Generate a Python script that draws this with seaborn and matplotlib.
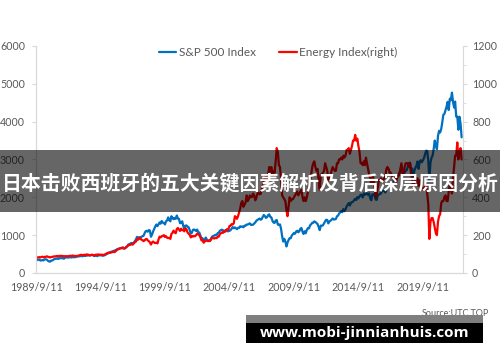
import numpy as np
import pandas as pd
import matplotlib
matplotlib.use("Agg")
import matplotlib.pyplot as plt
from matplotlib.patches import Rectangle
from matplotlib.lines import Line2D
import seaborn as sns

# S&P 500 月度数据（左轴），1989/9 起
spx = [
    349, 340, 346, 353,
    329, 332, 340, 331, 361, 358, 356, 323, 306, 298, 322, 330,
    344, 367, 375, 375, 390, 371, 388, 395, 388, 392, 375, 417,
    409, 413, 404, 415, 415, 408, 424, 414, 418, 419, 431, 436,
    439, 443, 452, 440, 450, 451, 448, 464, 459, 468, 462, 466,
    482, 467, 446, 451, 457, 444, 458, 475, 463, 472, 454, 459,
    470, 487, 501, 515, 533, 545, 562, 562, 584, 582, 605, 616,
    636, 640, 646, 654, 669, 671, 640, 652, 687, 705, 757, 741,
    786, 791, 757, 801, 848, 885, 954, 899, 947, 915, 955, 970,
    980, 1049, 1102, 1112, 1091, 1134, 1121, 957, 1017, 1099, 1164, 1229,
    1280, 1238, 1286, 1335, 1302, 1373, 1329, 1320, 1283, 1363, 1389, 1469,
    1394, 1366, 1499, 1452, 1421, 1455, 1431, 1518, 1437, 1429, 1315, 1320,
    1366, 1240, 1160, 1249, 1256, 1224, 1211, 1134, 1041, 1060, 1139, 1148,
    1130, 1107, 1147, 1077, 1067, 990, 912, 916, 815, 886, 936, 880,
    856, 841, 848, 917, 964, 975, 990, 1008, 996, 1051, 1058, 1112,
    1131, 1145, 1126, 1107, 1121, 1141, 1102, 1104, 1115, 1130, 1174, 1212,
    1181, 1204, 1181, 1157, 1192, 1191, 1234, 1220, 1229, 1207, 1249, 1248,
    1280, 1281, 1295, 1311, 1270, 1270, 1277, 1304, 1336, 1378, 1401, 1418,
    1438, 1407, 1421, 1482, 1531, 1503, 1455, 1474, 1527, 1549, 1481, 1468,
    1379, 1331, 1323, 1386, 1400, 1280, 1267, 1283, 1165, 968, 830, 903,
    826, 700, 798, 873, 919, 919, 987, 1021, 1057, 1036, 1096, 1115,
    1074, 1104, 1169, 1187, 1089, 1031, 1102, 1049, 1141, 1183, 1181, 1258,
    1286, 1327, 1326, 1364, 1345, 1321, 1292, 1219, 1131, 1253, 1247, 1258,
    1312, 1366, 1408, 1398, 1310, 1362, 1379, 1407, 1441, 1412, 1416, 1426,
    1498, 1515, 1569, 1598, 1631, 1606, 1686, 1633, 1682, 1757, 1806, 1848,
    1783, 1859, 1872, 1884, 1924, 1960, 1931, 2003, 1972, 2018, 2068, 2059,
    1995, 2105, 2068, 2086, 2107, 2063, 2104, 1972, 1920, 2079, 2080, 2044,
    1940, 1932, 2060, 2065, 2097, 2099, 2174, 2171, 2168, 2126, 2199, 2239,
    2279, 2364, 2363, 2384, 2412, 2423, 2470, 2472, 2519, 2575, 2648, 2674,
    2824, 2714, 2641, 2648, 2705, 2718, 2816, 2902, 2914, 2712, 2760, 2507,
    2704, 2784, 2834, 2946, 2752, 2942, 2980, 2926, 2977, 3038, 3141, 3231,
    3226, 2954, 2450, 2912, 3044, 3100, 3271, 3500, 3363, 3270, 3622, 3756,
    3714, 3811, 3973, 4181, 4204, 4298, 4395, 4523, 4308, 4605, 4567, 4766,
    4516, 4374, 4530, 4132, 4132, 3785, 4130, 3955, 3586,
]

# 能源指数月度数据（右轴）
energy = [
    80, 82, 81, 84,
    82, 84, 86, 83, 85, 84, 88, 86, 84, 82, 84, 85,
    86, 88, 87, 89, 90, 88, 90, 91, 89, 90, 88, 89,
    88, 89, 88, 90, 91, 90, 92, 91, 90, 89, 90, 91,
    92, 95, 96, 94, 95, 96, 95, 98, 97, 96, 93, 94,
    96, 95, 93, 95, 97, 96, 98, 97, 95, 97, 96, 95,
    98, 100, 104, 106, 108, 107, 108, 110, 112, 110, 114, 120,
    124, 126, 130, 132, 130, 134, 130, 132, 136, 142, 146, 148,
    150, 152, 150, 156, 162, 166, 178, 176, 186, 182, 176, 174,
    168, 172, 178, 180, 172, 168, 162, 150, 162, 166, 160, 158,
    160, 156, 176, 192, 188, 194, 196, 200, 190, 194, 186, 184,
    186, 180, 206, 212, 224, 214, 210, 232, 238, 230, 222, 234,
    226, 228, 220, 236, 232, 214, 208, 202, 188, 196, 192, 196,
    194, 200, 208, 204, 200, 188, 172, 174, 160, 166, 172, 170,
    168, 172, 170, 178, 186, 184, 182, 186, 184, 190, 192, 204,
    210, 214, 212, 220, 218, 226, 232, 230, 248, 250, 258, 256,
    262, 300, 296, 286, 300, 320, 340, 370, 380, 350, 362, 372,
    410, 380, 390, 410, 400, 402, 420, 410, 384, 396, 420, 424,
    416, 418, 440, 460, 490, 500, 510, 490, 520, 560, 536, 560,
    520, 540, 530, 590, 660, 640, 570, 560, 490, 410, 400, 390,
    380, 330, 300, 350, 400, 380, 390, 390, 400, 410, 420, 430,
    410, 420, 430, 440, 400, 380, 400, 380, 400, 430, 460, 490,
    520, 560, 580, 590, 560, 540, 550, 490, 440, 520, 520, 530,
    540, 580, 560, 540, 490, 510, 520, 540, 560, 550, 540, 540,
    580, 580, 600, 600, 610, 600, 620, 610, 620, 650, 650, 660,
    630, 650, 670, 700, 700, 730, 700, 710, 670, 640, 580, 580,
    570, 590, 570, 610, 580, 550, 520, 500, 470, 510, 500, 460,
    400, 420, 450, 490, 490, 500, 490, 490, 500, 510, 550, 560,
    550, 530, 530, 520, 500, 500, 500, 470, 510, 510, 520, 550,
    580, 520, 520, 560, 580, 580, 580, 560, 580, 520, 500, 440,
    480, 490, 500, 500, 460, 490, 470, 440, 450, 440, 460, 470,
    420, 360, 180, 270, 290, 290, 270, 240, 210, 200, 270, 300,
    310, 370, 380, 380, 400, 410, 380, 380, 430, 470, 440, 420,
    500, 560, 620, 620, 690, 600, 640, 660, 600,
]

tick_labels = ["1989/9/11", "1994/9/11", "1999/9/11", "2004/9/11",
               "2009/9/11", "2014/9/11", "2019/9/11"]
left_ticks = [0, 1000, 2000, 3000, 4000, 5000, 6000]
right_ticks = [0, 200, 400, 600, 800, 1000, 1200]

title = "日本击败西班牙的五大关键因素解析及背后深层原因分析"
watermark = "www.mobi-jinnianhuis.com"
source = "Source:UTC.TOP"

dates = pd.date_range("1989-09-11", periods=len(spx), freq=pd.DateOffset(months=1))
df = pd.DataFrame({"date": dates, "spx": spx, "energy": energy})

sns.set_style("white")
plt.rcParams["font.family"] = ["Lato", "DejaVu Sans"]
grey = "#595959"
blue = "#0070C0"
red = "#FF0000"

fig = plt.figure(figsize=(5, 3.62), dpi=100)
ax = fig.add_axes([0.072, 0.246, 0.854, 0.627])
ax2 = ax.twinx()

sns.lineplot(data=df, x="date", y="spx", ax=ax, color=blue, linewidth=1.6)
sns.lineplot(data=df, x="date", y="energy", ax=ax2, color=red, linewidth=1.6)

ax.set_ylim(0, 6000)
ax2.set_ylim(0, 1200)
ax.set_xlim(pd.Timestamp("1989-09-11"), pd.Timestamp("2022-10-20"))
ax.set_yticks(left_ticks)
ax2.set_yticks(right_ticks)
ax2.set_yticks(np.arange(0, 1201, 100), minor=True)

xt = [pd.Timestamp(s) for s in
      ["1989-09-11", "1994-09-11", "1999-09-11", "2004-09-11",
       "2009-09-11", "2014-09-11", "2019-09-11"]]
ax.set_xticks(xt)
ax.set_xticklabels(tick_labels)

for a in (ax, ax2):
    a.set_xlabel("")
    a.set_ylabel("")
    for s in a.spines.values():
        s.set_color("#d9d9d9")
        s.set_linewidth(0.8)
    a.spines["top"].set_visible(False)
    a.tick_params(labelsize=7.7, colors=grey, length=3, width=0.8)
    a.tick_params(axis="both", color="#d9d9d9")
ax2.tick_params(which="minor", length=2, color="#d9d9d9")
ax.spines["right"].set_visible(False)
ax.tick_params(axis="y", pad=5)

handles = [Line2D([], [], color=blue, lw=1.6), Line2D([], [], color=red, lw=1.6)]
fig.legend(handles, ["S&P 500 Index", "Energy Index(right)"], loc="center",
           bbox_to_anchor=(0.556, 0.856), ncol=2, frameon=False, fontsize=8.5,
           handlelength=1.5, handletextpad=0.2, columnspacing=2.0,
           labelcolor=grey)

fig.text(0.978, 0.135, source, ha="right", va="center", fontsize=6.5, color=grey)

# 中间的半透明标题横幅
fig.add_artist(Rectangle((0, 0.414), 1, 0.172, transform=fig.transFigure,
                         facecolor="black", alpha=0.6, edgecolor="none", zorder=5))
fig.text(0.5, 0.494, title, ha="center", va="center", fontsize=14.3,
         fontweight="bold", color="white", zorder=6,
         family=["Noto Sans CJK SC", "DejaVu Sans"])

# 底部水印
fig.add_artist(Rectangle((0.492, 0.052), 0.474, 0.078, transform=fig.transFigure,
                         facecolor="#7f7f7f", edgecolor="none", zorder=5))
fig.add_artist(Rectangle((0.492, 0.052), 0.474, 0.055, transform=fig.transFigure,
                         facecolor="black", edgecolor="none", zorder=6))
fig.text(0.729, 0.080, watermark, ha="center", va="center", fontsize=11,
         fontweight="bold", color="white", zorder=7, family=["Open Sans", "DejaVu Sans"])

fig.savefig("out.png", dpi=100)
